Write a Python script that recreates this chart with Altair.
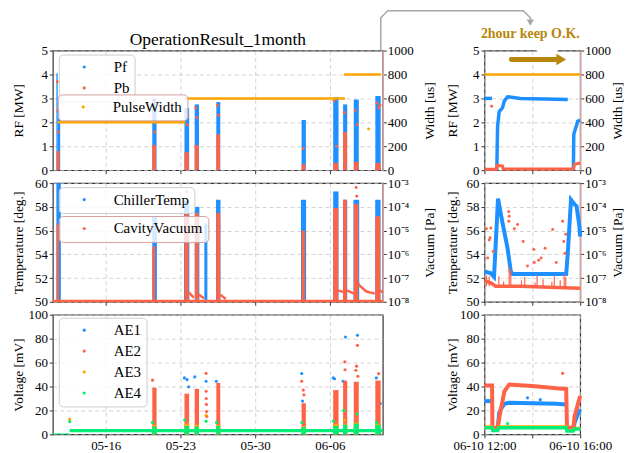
import altair as alt
import pandas as pd

FONT = "Liberation Serif"
BLUE = "#1e90ff"
RED = "#ff6347"
ORANGE = "#ffa500"
GREEN = "#00ee76"
GOLD = "#b8860b"
GRID = "#c8c8c8"
SPINE_R = "#d4a0a0"

# ================= month view (left column) =================
# --- RF: forward power bursts [MW]
pf_start = ["05-11T09:00", "05-11T12:00", "05-20T08:40", "05-23T09:00", "05-24T08:00", "05-26T08:40",
            "06-03T08:25", "06-06T07:30", "06-07T05:45", "06-08T05:45", "06-10T06:15"]
pf_end = ["05-11T12:00", "05-11T17:30", "05-20T18:15", "05-23T19:30", "05-24T17:45", "05-26T17:30",
          "06-03T18:00", "06-06T19:30", "06-07T15:00", "06-08T17:00", "06-10T18:15"]
pf_top = [4.05, 2.5, 3.0, 2.6, 2.75, 2.85, 2.1, 3.05, 2.75, 2.95, 3.1]
# --- RF: reflected power bursts [MW]
pb_start = ["05-11T09:00", "05-20T08:40", "05-23T09:00", "05-24T08:00", "05-26T08:40",
            "06-03T08:25", "06-06T07:30", "06-07T05:45", "06-08T05:45", "06-10T06:15"]
pb_end = ["05-11T16:00", "05-20T17:00", "05-23T19:00", "05-24T17:00", "05-26T17:00",
          "06-03T17:00", "06-06T18:30", "06-07T14:30", "06-08T16:30", "06-10T18:00"]
pb_top = [0.8, 1.05, 0.75, 1.05, 1.5, 0.25, 0.3, 1.6, 0.35, 0.3]
pb_out_t = ["05-11T11:00", "05-11T12:30", "05-11T14:00", "05-20T10:00", "05-20T14:00", "05-20T12:00",
            "05-23T12:00", "05-23T15:00", "05-24T10:00", "05-24T13:00", "05-26T11:00", "05-26T14:00",
            "06-03T12:00", "06-06T09:00", "06-06T15:00", "06-07T09:00", "06-08T09:00", "06-08T13:00",
            "06-10T10:00", "06-10T14:00", "06-10T17:00"]
pb_out_v = [3.7, 2.5, 1.6, 2.3, 1.6, 2.9, 2.3, 1.9, 2.6, 2.2, 2.7, 2.3, 0.9, 2.9, 1.0, 2.4, 2.5, 1.9,
            2.8, 2.6, 2.7]
# --- pulse width [us]
pw_start = ["05-11T12:00", "05-23T09:00", "06-07T08:00"]
pw_end = ["05-23T11:00", "06-07T10:00", "06-10T19:00"]
pw_val = [400, 600, 800]
pw_out_t = ["06-09T15:00"]
pw_out_v = [345]

# --- chiller temperature bursts [deg.]
tc_start = ["05-11T09:00", "05-20T08:40", "05-23T08:00", "05-24T08:00", "05-25T05:45", "05-26T08:00",
            "06-03T07:00", "06-06T07:30", "06-07T05:45", "06-08T05:00", "06-10T06:00"]
tc_end = ["05-11T19:00", "05-20T19:00", "05-23T20:00", "05-24T18:30", "05-25T12:30", "05-26T18:00",
          "06-03T18:30", "06-06T19:30", "06-07T15:00", "06-08T18:00", "06-10T18:00"]
tc_top = [60, 57.2, 58.5, 58.0, 56.6, 58.6, 58.6, 59.3, 58.6, 58.6, 58.6]
# --- cavity vacuum bursts [Pa]
vac_start = ["05-11T09:30", "05-20T08:40", "05-23T09:00", "05-24T08:30", "05-26T08:40",
             "06-03T08:25", "06-06T07:30", "06-07T05:45", "06-08T06:00", "06-10T06:15"]
vac_end = ["05-11T15:00", "05-20T15:00", "05-23T18:30", "05-24T17:00", "05-26T17:30",
           "06-03T16:00", "06-06T18:30", "06-07T14:00", "06-08T16:00", "06-10T17:00"]
vac_top = [1.8e-5, 2.2e-6, 5.6e-5, 5.6e-5, 5.6e-5, 1e-5, 9e-5, 2e-4, 1.3e-4, 4e-5]
vac_out_t = ["05-23T14:00", "06-08T11:00", "06-08T12:30"]
vac_out_v = [4.2e-4, 6.6e-4, 2.8e-4]
vac_tail_seg = ["a", "a", "b", "b", "c", "c", "d", "d", "e", "e", "f", "f", "f", "f", "g", "g",
                "base", "base"]
vac_tail_t = ["05-23T18:30", "05-24T06:00", "05-24T17:00", "05-25T05:00", "05-26T17:30", "05-27T06:00",
              "06-06T18:30", "06-07T05:45", "06-07T14:00", "06-08T06:00",
              "06-08T16:00", "06-08T19:00", "06-09T10:00", "06-10T05:00",
              "06-10T17:00", "06-10T23:00", "05-11T01:00", "06-10T23:00"]
vac_tail_v = [2.5e-8, 1.5e-8, 2e-8, 1.4e-8, 2e-8, 1.3e-8, 3e-8, 2.6e-8, 3e-8, 2.2e-8,
              6e-8, 4.7e-8, 2.7e-8, 2.2e-8, 3e-8, 2.5e-8, 1.08e-8, 1.08e-8]

# --- AE sensors [mV]
ae_base_start = ["05-11T01:00", "05-12T15:00"]
ae_base_end = ["05-12T15:00", "06-10T23:00"]
ae_base_lo = [0.0, 1.8]
ae_base_hi = [0.8, 4.5]
ae_start = ["05-20T08:40", "05-23T09:00", "05-24T08:00", "05-26T08:40", "06-03T08:25",
            "06-06T07:30", "06-07T05:45", "06-08T05:45", "06-10T06:15"]
ae_end = ["05-20T18:15", "05-23T19:30", "05-24T17:45", "05-26T17:30", "06-03T18:00",
          "06-06T19:30", "06-07T15:00", "06-08T17:00", "06-10T18:15"]
ae2_top = [39, 34, 38, 43, 26, 37, 44, 44, 45]
ae3_top = [8, 9, 8, 8, 7, 9, 9, 10, 9]
ae4_top = [6.5, 7, 6.5, 7, 6, 7, 8, 9, 8]
ae1_out_t = ["05-23T09:00", "05-23T15:00", "05-23T18:30", "05-24T08:10", "05-25T09:40", "05-26T08:40",
             "06-03T08:40", "06-03T10:30", "06-06T07:30", "06-06T10:30", "06-07T05:45", "06-07T11:00",
             "06-08T14:00", "06-10T08:30", "06-10T17:30"]
ae1_out_v = [47.2, 45.8, 39.7, 48, 44.4, 44.4, 50.8, 27.8, 47.2, 46.5, 44.4, 81.4, 82.8, 47.2, 25.8]
ae2_out_t = ["05-20T09:20", "05-25T09:40", "05-25T09:40", "05-25T10:00", "05-25T10:20", "05-25T10:40",
             "05-25T11:00", "06-03T08:40", "06-03T12:15", "06-03T13:40", "06-07T09:40", "06-07T10:00",
             "06-07T11:00", "06-08T14:00", "06-08T12:00", "06-08T10:30", "06-08T15:00", "06-10T13:40"]
ae2_out_v = [45.3, 51, 36, 30, 25, 19, 15, 44.4, 37, 33, 60.6, 54, 44, 74.4, 57, 53.6, 48.6, 50.8]
ae3_out_t = ["05-12T15:00", "05-25T09:40", "06-07T09:00"]
ae3_out_v = [12.5, 16, 12]
ae4_out_t = ["05-12T15:00", "05-20T09:00", "05-23T09:30", "05-25T09:40", "05-26T09:00", "06-03T09:00",
             "06-06T08:00", "06-07T07:00", "06-08T13:00", "06-10T09:00"]
ae4_out_v = [10.5, 10, 12, 11, 10, 10, 11, 20, 17, 10]

# ================= 4-hour view (right column, 06-10) =================
r_pf_t = ["12:00", "12:19", "12:31", "12:32", "12:33", "12:37", "12:45", "12:50", "12:58", "13:30",
          "14:30", "15:29", "15:43", "15:44", "15:54", "16:00"]
r_pf_v = [3.0, 3.0, 0.0, 1.0, 1.85, 2.45, 2.6, 2.9, 3.07, 3.0, 2.98, 2.95, 0.0, 1.5, 2.05, 2.1]
r_pf_seg = ["a", "a", "b", "b", "b", "b", "b", "b", "b", "b", "b", "b", "c", "c", "c", "c"]
r_pb_t = ["12:00", "12:30", "12:31", "12:45", "12:47", "15:43", "15:46", "16:00"]
r_pb_v = [0.04, 0.04, 0.2, 0.18, 0.05, 0.05, 0.25, 0.3]
r_pb_out_t = ["12:18"]
r_pb_out_v = [2.67]
r_pw_start = ["12:00"]
r_pw_end = ["16:00"]
r_pw_val = [800]

r_tc_t = ["12:00", "12:16", "12:24", "12:34", "12:45", "12:58", "13:06", "13:10", "15:25", "15:29",
          "15:37", "15:46", "15:51", "15:58", "16:00"]
r_tc_v = [52.55, 52.4, 52.1, 58.7, 56.7, 54.5, 52.55, 52.35, 52.35, 54.1, 58.6, 58.2, 58.05, 56.4, 55.5]
r_vac_base_t = ["12:00", "12:18", "12:28", "13:30", "15:00", "16:00"]
r_vac_base_v = [8e-8, 6e-8, 4.5e-8, 4.5e-8, 4e-8, 3.7e-8]
r_vac_spike_t = ["12:05", "12:12", "12:36", "12:48", "13:02", "13:06", "13:33", "13:41", "14:07", "14:12",
                 "14:27", "14:49", "14:55", "15:10", "15:20", "15:24"]
r_vac_spike_v = [1.3e-7, 1.2e-7, 1.2e-7, 7e-8, 3e-7, 2.2e-7, 8e-8, 1.1e-7, 6.5e-8, 1.3e-7,
                 9e-8, 7e-8, 1.2e-7, 8e-8, 1.5e-7, 1.1e-7]
r_vac_pt_t = ["12:05", "12:12", "12:14", "12:16", "12:22", "12:08", "13:01", "13:02", "13:01", "13:15",
              "13:23", "13:37", "13:48", "14:04", "14:05", "14:16", "14:22", "14:32", "14:51", "15:00",
              "15:16", "15:19", "15:22", "15:24"]
r_vac_pt_v = [1.2e-5, 4e-6, 5e-6, 1.3e-5, 1.3e-6, 7e-7, 6.3e-5, 4e-5, 2.5e-5, 1.2e-5,
              1.8e-5, 3.5e-6, 3.2e-7, 1.6e-6, 4.5e-7, 5.6e-7, 7e-7, 1.8e-6, 1.1e-5, 4.5e-7,
              2.5e-5, 3.5e-6, 1.1e-6, 7e-6]

r_ae1_t = ["12:00", "12:19", "12:33", "12:37", "12:41", "12:50", "13:02", "14:00", "15:00", "15:25",
           "15:43", "15:46", "15:54", "16:00"]
r_ae1_v = [27.8, 27.8, 4, 18, 21, 25.5, 26.4, 26, 25.5, 25, 4, 9.7, 16.7, 20.8]
r_ae1_seg = ["a", "a", "b", "b", "b", "b", "b", "b", "b", "b", "c", "c", "c", "c"]
r_ae2_t = ["12:00", "12:19", "12:20", "12:33", "12:41", "12:50", "13:02", "14:00", "15:00", "15:25",
           "15:27", "15:43", "15:46", "15:54", "16:00"]
r_ae2_v = [40.8, 40.8, 5.5, 5.5, 20.8, 36, 41.7, 40.5, 38.5, 38, 5.5, 5.5, 15, 25, 32]
r_ae34_t = ["12:00", "12:19", "12:21", "12:33", "12:36", "15:25", "15:27", "15:43", "15:46", "16:00"]
r_ae3_v = [6.3, 6.3, 3.6, 3.6, 6.3, 6.3, 3.2, 3.2, 5.0, 5.0]
r_ae4_v = [5.5, 5.5, 3.3, 3.3, 5.5, 5.5, 2.8, 2.8, 4.5, 4.5]
r_ae1_out_t = ["13:48", "14:20", "15:25"]
r_ae1_out_v = [30.5, 29, 31.5]
r_ae2_out_t = ["15:16"]
r_ae2_out_v = [51]
r_ae4_out_t = ["12:58"]
r_ae4_out_v = [9]


def T(s):
    return "2023-" + s


def R(s):
    return "2023-06-10T" + s


LW, RW = 331, 96
H1, H2, H3 = 120, 119, 120

LDOM = [alt.DateTime(year=2023, month=5, date=11, hours=1),
        alt.DateTime(year=2023, month=6, date=10, hours=23)]
LTICKS = [alt.DateTime(year=2023, month=5, date=16), alt.DateTime(year=2023, month=5, date=23),
          alt.DateTime(year=2023, month=5, date=30), alt.DateTime(year=2023, month=6, date=6)]
RDOM = [alt.DateTime(year=2023, month=6, date=10, hours=12),
        alt.DateTime(year=2023, month=6, date=10, hours=16)]
RTICKS = [alt.DateTime(year=2023, month=6, date=10, hours=h) for h in (12, 14, 16)]

AXBASE = dict(labelFont=FONT, labelFontSize=13, labelColor="#000", tickSize=3.5, tickColor="#333",
              titleFont=FONT, titleFontSize=13.5, titleFontWeight="normal", titleColor="#000")


def X(field, left, labels):
    kw = dict(title=None, labels=labels, grid=True, gridColor=GRID, gridDash=[4, 3], gridWidth=0.8,
              domain=False, labelPadding=2, labelFlush=False, labelOverlap=False, **AXBASE)
    if left:
        kw.update(values=LTICKS, format="%m-%d")
    else:
        kw.update(values=RTICKS,
                  labelExpr="hours(datum.value) == 14 ? '' : timeFormat(datum.value, '%m-%d %H:%M')")
    return alt.X(field, type="temporal", scale=alt.Scale(domain=LDOM if left else RDOM),
                 axis=alt.Axis(**kw))


def YL(field, domain, values, title, tx, h):
    return alt.Y(field, type="quantitative", scale=alt.Scale(domain=domain, nice=False, zero=False),
                 axis=alt.Axis(orient="left", values=values, title=title, titleX=tx, titleY=h / 2,
                               titleAngle=270, titleAlign="center", titleBaseline="middle", format="d",
                               labelPadding=2, domain=False, grid=True, gridColor=GRID,
                               gridDash=[4, 3], gridWidth=0.8, **AXBASE))


LOGEXPR = ("datum.value > 5e-4 ? '10\u207b\u00b3' : datum.value > 5e-5 ? '10\u207b\u2074' : "
           "datum.value > 5e-6 ? '10\u207b\u2075' : datum.value > 5e-7 ? '10\u207b\u2076' : "
           "datum.value > 5e-8 ? '10\u207b\u2077' : '10\u207b\u2078'")


def YR(field, domain, values, title, tx, h, log=False):
    kw = dict(orient="right", values=values, title=title, titleX=tx, titleY=h / 2, titleAngle=270,
              titleAlign="center", titleBaseline="middle", labelPadding=1, grid=False,
              domain=True, domainColor=SPINE_R, domainWidth=1.5, **AXBASE)
    if log:
        kw["labelExpr"] = LOGEXPR
        sc = alt.Scale(type="log", domain=domain)
    else:
        kw["format"] = "d"
        sc = alt.Scale(domain=domain, nice=False, zero=False)
    return alt.Y(field, type="quantitative", scale=sc, axis=alt.Axis(**kw))


def legend(x, y, stroke):
    return alt.Legend(orient="none", legendX=x, legendY=y, title=None, direction="vertical",
                      fillColor="rgba(255,255,255,0.8)", strokeColor=stroke, cornerRadius=4, padding=5,
                      labelFont=FONT, labelFontSize=15, labelColor="#000", labelBaseline="middle",
                      symbolType="circle", symbolSize=10, symbolStrokeWidth=0, symbolOffset=13,
                      labelOffset=22, rowPadding=5)


def C(domain, rng, leg):
    return alt.Color("s:N", scale=alt.Scale(domain=domain, range=rng), legend=leg)


def rects(start, end, top, s, tf=T, lo=None):
    d = {"t0": [tf(v) for v in start], "t1": [tf(v) for v in end], "top": top, "s": s}
    if lo is not None:
        d["lo"] = lo
    return pd.DataFrame(d)


def pts(t, v, s, tf=T, seg=None):
    d = {"t": [tf(x) for x in t], "v": v, "s": s}
    if seg is not None:
        d["seg"] = seg
    return pd.DataFrame(d)


ONE = pd.DataFrame({"k": [0]})


def rule(x1, y1, x2, y2, color, w):
    return alt.Chart(ONE).mark_rule(color=color, strokeWidth=w, strokeCap="round").encode(
        x=alt.value(x1), y=alt.value(y1), x2=alt.value(x2), y2=alt.value(y2))


def label(text, x, y, size, color="#000", weight="normal"):
    return alt.Chart(ONE).mark_text(text=text, font=FONT, fontSize=size, fontWeight=weight, color=color,
                                    align="center", baseline="middle").encode(x=alt.value(x), y=alt.value(y))


# ---------------- top-left ----------------
leg_rf = legend(6, 4, "#cccccc")
leg_pw = legend(5, 44, SPINE_R)
rf_dom, rf_vals = [0, 5], [0, 1, 2, 3, 4, 5]
yrf = lambda f: YL(f, rf_dom, rf_vals, "RF [MW]", -34, H1)
cRF = C(["Pf", "Pb"], [BLUE, RED], leg_rf)
tl_left = alt.layer(
    alt.Chart(rects(pf_start, pf_end, pf_top, "Pf")).mark_rect().encode(
        x=X("t0", True, False), x2="t1", y=yrf("top"), y2=alt.datum(0), color=cRF),
    alt.Chart(rects(pb_start, pb_end, pb_top, "Pb")).mark_rect().encode(
        x=X("t0", True, False), x2="t1", y=yrf("top"), y2=alt.datum(0), color=cRF),
    alt.Chart(pts(pb_out_t, pb_out_v, "Pb")).mark_circle(size=9, opacity=1).encode(
        x=X("t", True, False), y=yrf("v"), color=cRF),
)
ypw = lambda f: YR(f, [0, 1000], [0, 200, 400, 600, 800, 1000], "Width [us]", 47, H1)
tl_right = alt.layer(
    alt.Chart(pd.DataFrame({"t0": [T(v) for v in pw_start], "t1": [T(v) for v in pw_end], "v": pw_val}))
    .mark_rule(color=ORANGE, strokeWidth=2.5).encode(x=X("t0", True, False), x2="t1", y=ypw("v")),
    alt.Chart(pts(pw_out_t, pw_out_v, "PulseWidth")).mark_circle(size=9, opacity=1).encode(
        x=X("t", True, False), y=ypw("v"), color=C(["PulseWidth"], [ORANGE], leg_pw)),
)
ARROW = "#a8a8a8"
top_left = alt.layer(
    tl_left, tl_right,
    label("OperationResult_1month", LW / 2, -11, 17.5),
    rule(329, 0, 329, -33, ARROW, 1.5),
    rule(329, -33, 336, -40, ARROW, 1.5),
    rule(336, -40, 472, -40, ARROW, 1.5),
    rule(472, -40, 479, -33, ARROW, 1.5),
    rule(479, -33, 479, -31, ARROW, 1.5),
    alt.Chart(ONE).mark_point(shape="triangle-down", filled=True, size=55, color=ARROW, opacity=1).encode(
        x=alt.value(479), y=alt.value(-28)),
).resolve_scale(y="independent", color="independent").properties(width=LW, height=H1)

# ---------------- top-right ----------------
yrf_r = lambda f: YL(f, rf_dom, rf_vals, "RF [MW]", -32, H1)
tr_left = alt.layer(
    alt.Chart(pts(r_pf_t, r_pf_v, "Pf", R, r_pf_seg)).mark_line(color=BLUE, strokeWidth=3.5).encode(
        x=X("t", False, False), y=yrf_r("v"), detail="seg:N"),
    alt.Chart(pts(r_pb_t, r_pb_v, "Pb", R)).mark_line(color=RED, strokeWidth=3).encode(
        x=X("t", False, False), y=yrf_r("v")),
    alt.Chart(pts(r_pb_out_t, r_pb_out_v, "Pb", R)).mark_circle(size=9, opacity=1, color=RED).encode(
        x=X("t", False, False), y=yrf_r("v")),
)
ypw_r = lambda f: YR(f, [0, 1000], [0, 200, 400, 600, 800, 1000], "Width [us]", 37, H1)
tr_right = alt.Chart(pd.DataFrame({"t0": [R(v) for v in r_pw_start], "t1": [R(v) for v in r_pw_end],
                                   "v": r_pw_val})).mark_rule(color=ORANGE, strokeWidth=2.5).encode(
    x=X("t0", False, False), x2="t1", y=ypw_r("v"))
top_right = alt.layer(
    tr_left, tr_right,
    rule(54, 0, 72, 0, "white", 3),
    label("2hour keep O.K.", 46, -17, 14, GOLD, "bold"),
    rule(27, 9, 72, 9, GOLD, 5),
    alt.Chart(ONE).mark_point(shape="triangle-right", filled=True, size=130, color=GOLD, opacity=1).encode(
        x=alt.value(77), y=alt.value(9)),
).resolve_scale(y="independent").properties(width=RW, height=H1)

# ---------------- mid-left ----------------
leg_tc = legend(6, 4, "#cccccc")
leg_vac = legend(6, 33, SPINE_R)
tc_dom, tc_vals = [50, 60], [50, 52, 54, 56, 58, 60]
vac_dom, vac_vals = [1e-8, 1e-3], [1e-8, 1e-7, 1e-6, 1e-5, 1e-4, 1e-3]
ytc = lambda f: YL(f, tc_dom, tc_vals, "Temperature [deg.]", -34, H2)
yvac = lambda f: YR(f, vac_dom, vac_vals, "Vacuum [Pa]", 47, H2, log=True)
cTC = C(["ChillerTemp"], [BLUE], leg_tc)
cVAC = C(["CavityVacuum"], [RED], leg_vac)
ml_left = alt.Chart(rects(tc_start, tc_end, tc_top, "ChillerTemp")).mark_rect().encode(
    x=X("t0", True, False), x2="t1", y=ytc("top"), y2=alt.datum(50), color=cTC)
ml_right = alt.layer(
    alt.Chart(pts(vac_tail_t, vac_tail_v, "CavityVacuum", T, vac_tail_seg)).mark_line(
        color=RED, strokeWidth=2.5).encode(x=X("t", True, False), y=yvac("v"), detail="seg:N"),
    alt.Chart(rects(vac_start, vac_end, vac_top, "CavityVacuum")).mark_rect().encode(
        x=X("t0", True, False), x2="t1", y=yvac("top"), y2=alt.datum(1e-8), color=cVAC),
    alt.Chart(pts(vac_out_t, vac_out_v, "CavityVacuum")).mark_circle(size=9, opacity=1).encode(
        x=X("t", True, False), y=yvac("v"), color=cVAC),
)
mid_left = alt.layer(ml_left, ml_right).resolve_scale(y="independent", color="independent").properties(
    width=LW, height=H2)

# ---------------- mid-right ----------------
ytc_r = lambda f: YL(f, tc_dom, tc_vals, "Temperature [deg.]", -32, H2)
yvac_r = lambda f: YR(f, vac_dom, vac_vals, "Vacuum [Pa]", 37, H2, log=True)
mr_left = alt.Chart(pts(r_tc_t, r_tc_v, "ChillerTemp", R)).mark_line(color=BLUE, strokeWidth=4).encode(
    x=X("t", False, False), y=ytc_r("v"))
spk = pts(r_vac_spike_t, r_vac_spike_v, "CavityVacuum", R)
spk["base"] = 4.5e-8
mr_right = alt.layer(
    alt.Chart(pts(r_vac_base_t, r_vac_base_v, "CavityVacuum", R)).mark_line(color=RED, strokeWidth=3.5).encode(
        x=X("t", False, False), y=yvac_r("v")),
    alt.Chart(spk).mark_rule(color=RED, strokeWidth=1.2).encode(
        x=X("t", False, False), y=yvac_r("v"), y2="base"),
    alt.Chart(pts(r_vac_pt_t, r_vac_pt_v, "CavityVacuum", R)).mark_circle(size=9, opacity=1, color=RED).encode(
        x=X("t", False, False), y=yvac_r("v")),
)
mid_right = alt.layer(mr_left, mr_right).resolve_scale(y="independent").properties(width=RW, height=H2)

# ---------------- bottom-left ----------------
leg_ae = legend(6, 3, "#cccccc")
ae_dom, ae_vals = [0, 100], [0, 20, 40, 60, 80, 100]
yae = lambda f: YL(f, ae_dom, ae_vals, "Voltage [mV]", -34, H3)
cAE = C(["AE1", "AE2", "AE3", "AE4"], [BLUE, RED, ORANGE, GREEN], leg_ae)
base_df = rects(ae_base_start, ae_base_end, ae_base_hi, "AE4", T, ae_base_lo)
bottom_left = alt.layer(
    alt.Chart(pts(ae1_out_t, ae1_out_v, "AE1")).mark_circle(size=10, opacity=1).encode(
        x=X("t", True, True), y=yae("v"), color=cAE),
    alt.Chart(rects(ae_start, ae_end, ae2_top, "AE2")).mark_rect().encode(
        x=X("t0", True, True), x2="t1", y=yae("top"), y2=alt.datum(0), color=cAE),
    alt.Chart(pts(ae2_out_t, ae2_out_v, "AE2")).mark_circle(size=10, opacity=1).encode(
        x=X("t", True, True), y=yae("v"), color=cAE),
    alt.Chart(rects(ae_start, ae_end, ae3_top, "AE3")).mark_rect().encode(
        x=X("t0", True, True), x2="t1", y=yae("top"), y2=alt.datum(0), color=cAE),
    alt.Chart(pts(ae3_out_t, ae3_out_v, "AE3")).mark_circle(size=10, opacity=1).encode(
        x=X("t", True, True), y=yae("v"), color=cAE),
    alt.Chart(base_df).mark_rect().encode(
        x=X("t0", True, True), x2="t1", y=yae("top"), y2="lo", color=cAE),
    alt.Chart(rects(ae_start, ae_end, ae4_top, "AE4")).mark_rect().encode(
        x=X("t0", True, True), x2="t1", y=yae("top"), y2=alt.datum(0), color=cAE),
    alt.Chart(pts(ae4_out_t, ae4_out_v, "AE4")).mark_circle(size=10, opacity=1).encode(
        x=X("t", True, True), y=yae("v"), color=cAE),
).properties(width=LW, height=H3)

# ---------------- bottom-right ----------------
yae_r = lambda f: YL(f, ae_dom, ae_vals, "Voltage [mV]", -32, H3)
bottom_right = alt.layer(
    alt.Chart(pts(r_ae1_t, r_ae1_v, "AE1", R, r_ae1_seg)).mark_line(color=BLUE, strokeWidth=4).encode(
        x=X("t", False, True), y=yae_r("v"), detail="seg:N"),
    alt.Chart(pts(r_ae1_out_t, r_ae1_out_v, "AE1", R)).mark_circle(size=10, opacity=1, color=BLUE).encode(
        x=X("t", False, True), y=yae_r("v")),
    alt.Chart(pts(r_ae2_t, r_ae2_v, "AE2", R)).mark_line(color=RED, strokeWidth=4).encode(
        x=X("t", False, True), y=yae_r("v")),
    alt.Chart(pts(r_ae2_out_t, r_ae2_out_v, "AE2", R)).mark_circle(size=10, opacity=1, color=RED).encode(
        x=X("t", False, True), y=yae_r("v")),
    alt.Chart(pts(r_ae34_t, r_ae3_v, "AE3", R)).mark_line(color=ORANGE, strokeWidth=3).encode(
        x=X("t", False, True), y=yae_r("v")),
    alt.Chart(pts(r_ae34_t, r_ae4_v, "AE4", R)).mark_line(color=GREEN, strokeWidth=3.5).encode(
        x=X("t", False, True), y=yae_r("v")),
    alt.Chart(pts(r_ae4_out_t, r_ae4_out_v, "AE4", R)).mark_circle(size=10, opacity=1, color=GREEN).encode(
        x=X("t", False, True), y=yae_r("v")),
).properties(width=RW, height=H3)

chart = alt.concat(
    top_left, top_right, mid_left, mid_right, bottom_left, bottom_right,
    columns=2, spacing={"row": 13, "column": 102}, bounds="flush", align="each",
).resolve_scale(x="independent", y="independent", color="independent").properties(
    padding={"left": 11, "top": 8, "right": 6, "bottom": 0}, background="white"
).configure(font=FONT).configure_view(stroke="#333333", strokeWidth=1.2)

chart.save("out.html", embed_options={"renderer": "svg", "actions": False})
